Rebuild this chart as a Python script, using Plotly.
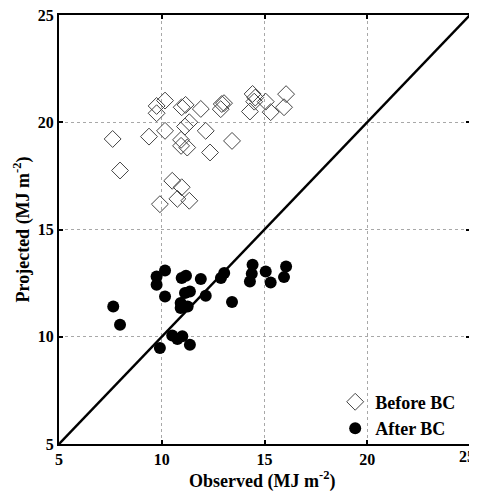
import plotly.graph_objects as go

# Before bias correction
before_obs = [7.61, 7.97, 9.38, 9.75, 9.75, 10.16, 10.16, 9.91, 10.51, 10.97, 10.76, 11.34,
              10.94, 10.94, 11.24, 10.97, 11.16, 11.13, 11.34, 11.90, 12.14, 12.35, 12.92,
              12.87, 13.03, 13.42, 14.42, 14.50, 14.29, 14.55, 15.06, 15.30, 16.05, 15.95]
before_proj = [19.22, 17.75, 19.33, 20.76, 20.42, 21.01, 19.60, 16.18, 17.27, 16.97, 16.43, 16.34,
               19.18, 18.90, 18.82, 20.70, 20.81, 19.80, 20.00, 20.62, 19.60, 18.59, 20.85,
               20.61, 20.89, 19.13, 21.32, 20.96, 20.50, 21.15, 20.96, 20.47, 21.31, 20.70]

# After bias correction
after_obs = [7.64, 7.97, 9.75, 9.75, 10.16, 10.16, 9.91, 10.51, 10.76, 11.00, 11.37, 10.92,
             10.92, 11.26, 11.13, 11.37, 10.97, 11.18, 11.90, 12.14, 12.88, 13.04, 13.42,
             14.42, 14.38, 14.29, 15.06, 15.30, 16.05, 15.95]
after_proj = [11.41, 10.56, 12.81, 12.42, 13.09, 11.88, 9.48, 10.06, 9.90, 10.02, 9.63, 11.57,
              11.34, 11.41, 12.04, 12.11, 12.74, 12.84, 12.69, 11.91, 12.74, 12.97, 11.62,
              13.36, 12.94, 12.58, 13.04, 12.53, 13.28, 12.78]

line_x = [5, 25]
line_y = [5, 25]

tick_vals = [5, 10, 15, 20, 25]
tick_text = ["5", "10", "15", "20", "25"]

font_family = "Liberation Serif, Times New Roman, serif"

fig = go.Figure()
fig.add_trace(go.Scatter(x=line_x, y=line_y, mode="lines",
                         line=dict(color="black", width=2.5), showlegend=False,
                         hoverinfo="skip"))
fig.add_trace(go.Scatter(x=before_obs, y=before_proj, mode="markers", name="<b>Before BC</b>",
                         marker=dict(symbol="diamond-open", size=13, color="#444444",
                                     line=dict(width=1, color="#444444"))))
fig.add_trace(go.Scatter(x=after_obs, y=after_proj, mode="markers", name="<b>After BC</b>",
                         marker=dict(symbol="circle", size=12, color="black")))

axis_common = dict(
    range=[5, 25], tickmode="array", tickvals=tick_vals,
    ticklabeloverflow="allow",
    showline=True, linewidth=2, linecolor="black", mirror="ticks",
    ticks="inside", ticklen=4, tickwidth=1.5, tickcolor="black",
    showgrid=True, gridcolor="#a8a8a8", griddash="dot", gridwidth=1,
    zeroline=False,
    tickfont=dict(family=font_family, size=16, color="black"),
)

# last x tick label drawn separately so it stays inside the window (as in the reference)
x_ticktext = ["<b>%s</b>" % t for t in tick_text[:-1]] + [""]
y_ticktext = ["<b>%s</b>" % t for t in tick_text]

title_font = dict(family=font_family, size=18, color="black")

fig.update_layout(
    width=477, height=484,
    margin=dict(l=51, r=15, t=7, b=48, autoexpand=False),
    plot_bgcolor="white", paper_bgcolor="white",
    font=dict(family=font_family, color="black"),
    xaxis=dict(**axis_common, ticktext=x_ticktext),
    yaxis=dict(**axis_common, ticktext=y_ticktext),
    legend=dict(x=0.672, y=-0.006, xanchor="left", yanchor="bottom",
                bgcolor="rgba(255,255,255,0)",
                font=dict(family=font_family, size=18, color="black"),
                itemwidth=30, tracegroupgap=0),
    showlegend=True,
    annotations=[
        dict(text="<b>Observed (MJ m<sup>-2</sup>)</b>", xref="paper", yref="paper",
             x=0.495, y=0, xanchor="center", yanchor="middle", yshift=-36,
             showarrow=False, font=title_font),
        dict(text="<b>Projected (MJ m<sup>-2</sup>)</b>", xref="paper", yref="paper",
             x=0, y=0.5, xanchor="center", yanchor="middle", xshift=-37,
             textangle=-90, showarrow=False, font=title_font),
        dict(text="<b>%s</b>" % tick_text[-1], xref="paper", yref="paper",
             x=1, y=0, xanchor="right", yanchor="top",
             xshift=7, yshift=-2, showarrow=False,
             font=dict(family=font_family, size=16, color="black")),
    ],
)

fig.write_html("out.html")
